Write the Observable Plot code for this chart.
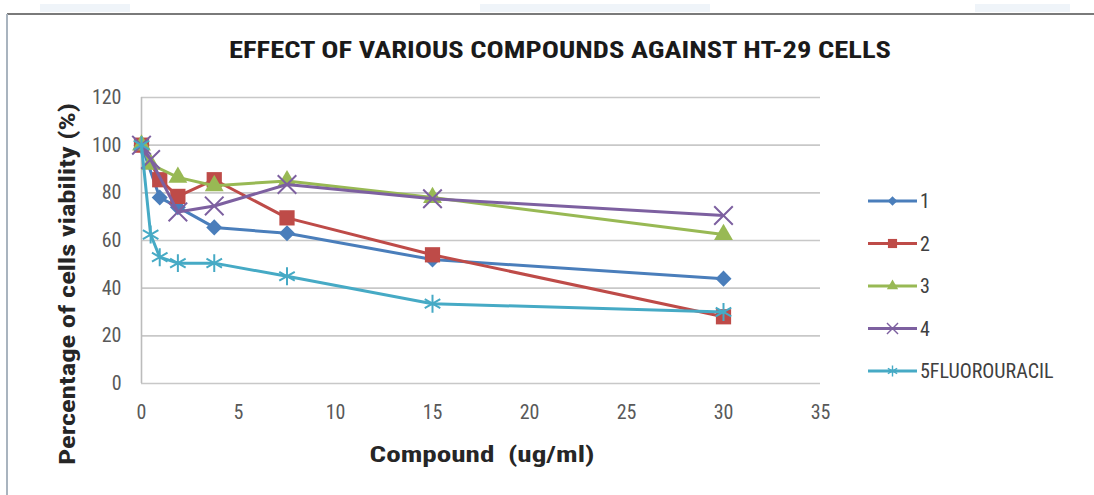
<!DOCTYPE html>
<html><head><meta charset="utf-8">
<script src="https://cdn.jsdelivr.net/npm/d3@7"></script>
<script src="https://cdn.jsdelivr.net/npm/@observablehq/plot@0.6"></script>
<style>
body{margin:0;background:#fff;}
#wrap{position:relative;width:1094px;height:495px;overflow:hidden;background:#fff;}
#wrap > svg{position:absolute;left:0;top:0;}
</style></head>
<body><div id="wrap"></div>
<script>
const FONT = "'Liberation Sans Narrow','Arial Narrow','Roboto Condensed',Roboto,'Liberation Sans',sans-serif";

const titleText = "EFFECT OF VARIOUS COMPOUNDS AGAINST HT-29 CELLS";
const xLabel = "Compound  (ug/ml)";
const yLabel = "Percentage of cells viability (%)";

const seriesNames = ["1", "2", "3", "4", "5FLUOROURACIL"];
const doses = [0, 0.47, 0.94, 1.875, 3.75, 7.5, 15, 30];
const v1 = [100, null, 78, 74, 65.5, 63, 52, 44];
const v2 = [100, null, 85.5, 78.5, 85.5, 69.5, 54, 28];
const v3 = [100, 92, null, 86.5, 83, 85, 78, 62.5];
const v4 = [100, 94, null, 72, 74.5, 83.5, 77.5, 70.5];
const v5 = [100, 62.5, 53, 50.5, 50.5, 45, 33.5, 30];
const xTicks = [0, 5, 10, 15, 20, 25, 30, 35];
const yTicks = [0, 20, 40, 60, 80, 100, 120];

const colors = ["#4A7EBB", "#BE4B48", "#98B954", "#7D60A0", "#46AAC5"];
const allValues = [v1, v2, v3, v4, v5];

// square (Excel-like) diamond symbol
const diamondSq = {draw(ctx, size) { const r = Math.sqrt(size / 2); ctx.moveTo(0, -r); ctx.lineTo(r, 0); ctx.lineTo(0, r); ctx.lineTo(-r, 0); ctx.closePath(); }};
const symbolDefs = [
  {symbol: diamondSq, filled: true, r: 6.4},
  {symbol: "square", filled: true, r: 8.6},
  {symbol: "triangle", filled: true, r: 7},
  {symbol: "times", filled: false, r: 8.5},
  {symbol: "asterisk", filled: false, r: 8.5}
];

const tables = allValues.map((vals, i) =>
  doses.map((d, j) => ({dose: d, v: vals[j], s: seriesNames[i]})).filter(r => r.v != null));

const seriesMarks = tables.flatMap((t, i) => {
  const sd = symbolDefs[i];
  return [
    Plot.line(t, {x: "dose", y: "v", stroke: colors[i], strokeWidth: 3}),
    Plot.dot(t, sd.filled
      ? {x: "dose", y: "v", symbol: () => sd.symbol, fill: colors[i], stroke: "none", r: sd.r}
      : {x: "dose", y: "v", symbol: () => sd.symbol, stroke: colors[i], strokeWidth: 2, fill: "none", r: sd.r})
  ];
});

const chart = Plot.plot({
  width: 1094, height: 495,
  marginLeft: 141, marginRight: 274, marginTop: 97, marginBottom: 112,
  x: {domain: [0, 35], label: null},
  y: {domain: [0, 120], label: null},
  symbol: {type: "identity"},
  style: {fontFamily: FONT, fontSize: "20px", color: "#595959", background: "transparent", overflow: "visible"},
  marks: [
    Plot.gridY(yTicks, {stroke: "#c8c8c8", strokeOpacity: 1, strokeWidth: 1.6}),
    Plot.ruleX([0], {stroke: "#bcbcbc", strokeWidth: 1.6}),
    Plot.axisY(yTicks, {tickSize: 0, tickPadding: 20, fill: "#595959", label: null}),
    Plot.axisX(xTicks, {tickSize: 0, tickPadding: 21, fill: "#595959", label: null}),
    ...seriesMarks
  ]
});
document.getElementById("wrap").appendChild(chart);

// overlay: frame, title, axis titles, legend
const W = 1094, H = 495;
const ov = d3.select("#wrap").append("svg").attr("width", W).attr("height", H)
  .style("font-family", FONT);

// faint page decoration above the chart frame
[[40, 130], [480, 710], [975, 1070]].forEach(([a, b]) =>
  ov.append("rect").attr("x", a).attr("y", 4).attr("width", b - a).attr("height", 8)
    .attr("fill", "#dfeaf4").attr("opacity", 0.5));
ov.append("line").attr("x1", 7).attr("x2", W).attr("y1", 14).attr("y2", 14).attr("stroke", "#7a7a7a").attr("stroke-width", 2.2);
ov.append("line").attr("x1", 7).attr("x2", 7).attr("y1", 14).attr("y2", H).attr("stroke", "#a9b4bf").attr("stroke-width", 2);

ov.append("text").text(titleText)
  .attr("x", 560).attr("y", 58).attr("text-anchor", "middle")
  .attr("font-size", 23).attr("font-weight", "bold").attr("fill", "#1a1a1a")
  .attr("textLength", 662).attr("lengthAdjust", "spacingAndGlyphs");

ov.append("text").text(xLabel)
  .attr("x", 482).attr("y", 462).attr("text-anchor", "middle")
  .attr("font-size", 22).attr("font-weight", "bold").attr("fill", "#262626")
  .attr("textLength", 225).attr("lengthAdjust", "spacingAndGlyphs")
  .style("white-space", "pre");

ov.append("text").text(yLabel)
  .attr("transform", "translate(75,284) rotate(-90)").attr("text-anchor", "middle")
  .attr("font-size", 22).attr("font-weight", "bold").attr("fill", "#262626")
  .attr("textLength", 362).attr("lengthAdjust", "spacingAndGlyphs");

// legend
const legY0 = 201, legStep = 42.5;
seriesNames.forEach((name, i) => {
  const y = legY0 + i * legStep;
  const g = ov.append("g");
  g.append("line").attr("x1", 868).attr("x2", 917).attr("y1", y).attr("y2", y)
    .attr("stroke", colors[i]).attr("stroke-width", 3);
  const sd = symbolDefs[i];
  const typ = typeof sd.symbol === "string"
    ? {square: d3.symbolSquare, triangle: d3.symbolTriangle, times: d3.symbolTimes, asterisk: d3.symbolAsterisk}[sd.symbol]
    : sd.symbol;
  const size = Math.PI * (sd.r * 0.6) ** 2;
  const p = g.append("path").attr("d", d3.symbol(typ, size)()).attr("transform", `translate(892.5,${y})`);
  if (sd.filled) p.attr("fill", colors[i]); else p.attr("fill", "none").attr("stroke", colors[i]).attr("stroke-width", 1.4);
  g.append("text").text(name).attr("x", 920).attr("y", y).attr("dy", "0.36em")
    .attr("font-size", 20).attr("fill", "#404040");
});
</script></body></html>
